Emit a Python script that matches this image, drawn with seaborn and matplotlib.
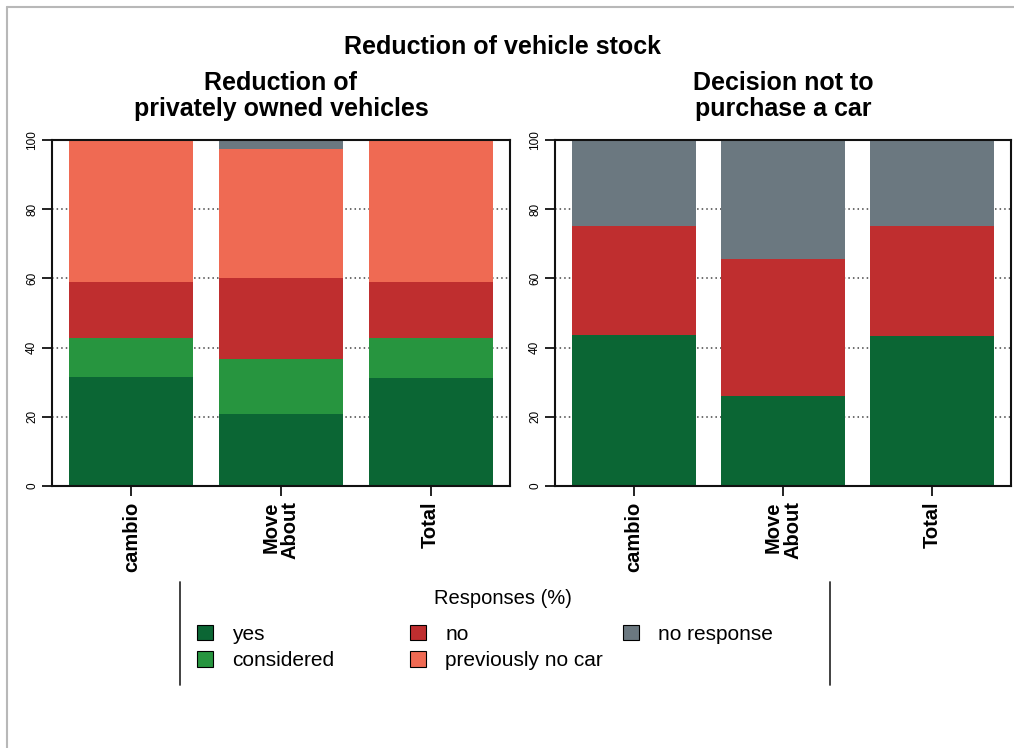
import matplotlib
matplotlib.use("Agg")
import matplotlib.pyplot as plt
import seaborn as sns
import numpy as np
import pandas as pd
from matplotlib.patches import Patch
from matplotlib.lines import Line2D

groups = ["cambio", "Move About", "Total"]
group_labels = ["cambio", "Move\nAbout", "Total"]
responses = ["yes", "considered", "no", "previously no car", "no response"]
colors = ["#0b6634", "#27953f", "#bf2e2f", "#ef6a53", "#6b7880"]

# left panel: reduction of privately owned vehicles (%)
red_yes = [31.5, 20.9, 31.3]
red_considered = [11.4, 15.7, 11.6]
red_no = [16.2, 23.6, 16.2]
red_prev_no_car = [40.9, 37.1, 40.9]
red_no_response = [0.0, 2.7, 0.0]

# right panel: decision not to purchase a car (%)
dec_yes = [43.6, 26.0, 43.4]
dec_considered = [0.0, 0.0, 0.0]
dec_no = [31.5, 39.5, 31.7]
dec_prev_no_car = [0.0, 0.0, 0.0]
dec_no_response = [24.9, 34.5, 24.9]

sns.set_theme(style="white")
plt.rcParams["font.family"] = ["Liberation Sans", "DejaVu Sans"]
plt.rcParams["text.color"] = "black"
plt.rcParams["xtick.color"] = "black"
plt.rcParams["ytick.color"] = "black"


def stacked_panel(ax, layers, title):
    df = pd.DataFrame(dict(zip(responses, layers)), index=groups)
    cum = df.cumsum(axis=1)
    # draw cumulative totals from the top layer down, each covering the next
    for resp, col in reversed(list(zip(responses, colors))):
        if df[resp].sum() == 0:
            continue
        sns.barplot(x=groups, y=cum[resp].values, order=groups, color=col,
                    saturation=1, width=0.83, linewidth=0, ax=ax)
    ax.set_xlim(-0.53, 2.53)
    ax.set_ylim(0, 100)
    ax.set_xlabel("")
    ax.set_ylabel("")
    ax.set_yticks(range(0, 101, 20))
    ax.set_yticklabels([str(v) for v in range(0, 101, 20)], rotation=90,
                       va="center", fontsize=8.5, color="black")
    ax.set_xticks(range(len(groups)))
    ax.set_xticklabels(group_labels, rotation=90, fontsize=14.5, fontweight="bold",
                       va="top", ha="center", multialignment="right", linespacing=1.0,
                       color="black")
    ax.tick_params(axis="both", length=7, width=1.3, color="#111111",
                   left=True, bottom=True, direction="out")
    ax.tick_params(axis="y", pad=3)
    ax.tick_params(axis="x", pad=4)
    ax.yaxis.grid(True, linestyle=(0, (1, 2)), color="#444444", linewidth=1.1)
    ax.set_axisbelow(True)
    for sp in ax.spines.values():
        sp.set_color("#111111")
        sp.set_linewidth(1.5)
    pos = ax.get_position()
    ax.figure.text(pos.x0 + pos.width / 2, 1 - 96 / 748, title, ha="center",
                   va="center", fontsize=18, fontweight="bold", linespacing=1.15,
                   color="black")


fig = plt.figure(figsize=(10.14, 7.48), dpi=100)
W, H = 1014, 748
ax1 = fig.add_axes([52 / W, 1 - 486 / H, 458 / W, 346 / H])
ax2 = fig.add_axes([555 / W, 1 - 486 / H, 456 / W, 346 / H])

stacked_panel(ax1, [red_yes, red_considered, red_no, red_prev_no_car, red_no_response],
              "Reduction of\nprivately owned vehicles")
stacked_panel(ax2, [dec_yes, dec_considered, dec_no, dec_prev_no_car, dec_no_response],
              "Decision not to\npurchase a car")

fig.text(503 / W, 1 - 47 / H, "Reduction of vehicle stock", ha="center", va="center",
         fontsize=18, fontweight="bold", color="black")

# legend, laid out in three columns like the original
handles = [Patch(facecolor=c, edgecolor="black", linewidth=0.8) for c in colors]
cols = [(197, [0, 1]), (410, [2, 3]), (623, [4])]
for x0, idx in cols:
    fig.legend([handles[i] for i in idx], [responses[i] for i in idx],
               loc="upper left", bbox_to_anchor=(x0 / W, 1 - 625 / H),
               frameon=False, fontsize=15, handlelength=0.75, handleheight=0.75,
               handletextpad=0.95, labelspacing=0.35, borderpad=0, borderaxespad=0)
fig.text(503 / W, 1 - 599 / H, "Responses (%)", ha="center", va="center",
         fontsize=14.5, color="black")
for x in (180, 830):
    fig.add_artist(Line2D([x / W, x / W], [1 - 582 / H, 1 - 685 / H],
                          transform=fig.transFigure, color="#333333", linewidth=1.3))

# light page border
fig.add_artist(Line2D([7 / W, 7 / W], [0, 1 - 7 / H], transform=fig.transFigure,
                      color="#b8b8b8", linewidth=1.5))
fig.add_artist(Line2D([7 / W, 1], [1 - 7 / H, 1 - 7 / H], transform=fig.transFigure,
                      color="#b8b8b8", linewidth=1.5))

fig.savefig("out.png", dpi=100)
